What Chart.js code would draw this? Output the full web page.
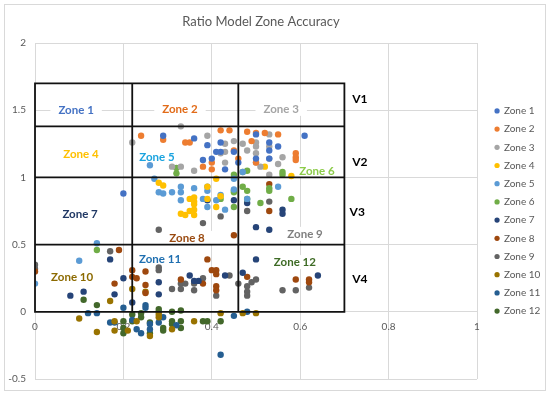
<!DOCTYPE html>
<html>
<head>
<meta charset="utf-8">
<script src="https://cdn.jsdelivr.net/npm/chart.js@4/dist/chart.umd.min.js"></script>
<style>
  html, body { margin: 0; padding: 0; background: #ffffff; }
  canvas { display: block; }
</style>
</head>
<body>
<canvas id="c" width="550" height="394"></canvas>
<script>
// ---------------- DATA ----------------
const seriesNames = ['Zone 1','Zone 2','Zone 3','Zone 4','Zone 5','Zone 6','Zone 7','Zone 8','Zone 9','Zone 10','Zone 11','Zone 12'];

const zone1 = [[0.29,1.31],[0.36,1.29],[0.39,1.24],[0.42,1.26],[0.42,1.19],[0.41,1.19],[0.38,1.13],[0.40,1.14],[0.43,1.06],[0.46,1.11],[0.50,1.32],[0.53,1.26],[0.50,1.14],[0.53,1.14],[0.55,1.23],[0.61,1.31],[0.20,0.88],[0.45,1.19],[0.53,1.20]];
const zone2 = [[0.24,1.31],[0.29,1.28],[0.34,1.26],[0.35,1.26],[0.42,1.35],[0.44,1.35],[0.48,1.34],[0.50,1.33],[0.52,1.33],[0.55,1.32],[0.45,1.20],[0.40,1.11],[0.40,1.06],[0.38,1.08],[0.59,1.18],[0.59,1.15],[0.59,1.13],[0.50,1.11],[0.49,1.27],[0.46,1.14]];
const zone3 = [[0.33,1.38],[0.22,1.26],[0.39,1.31],[0.45,1.27],[0.43,1.19],[0.42,1.18],[0.43,1.11],[0.36,1.05],[0.31,1.08],[0.33,1.08],[0.47,1.25],[0.50,1.26],[0.50,1.18],[0.50,1.11],[0.53,1.23],[0.56,1.15],[0.55,1.10],[0.53,1.32],[0.53,1.02],[0.50,1.23],[0.48,1.20],[0.51,1.08],[0.53,1.14],[0.43,1.25]];
const zone4 = [[0.28,0.96],[0.29,0.94],[0.35,0.84],[0.36,0.85],[0.36,0.82],[0.41,0.99],[0.39,0.93],[0.41,0.78],[0.33,0.73],[0.36,0.76],[0.52,1.08],[0.36,0.80],[0.35,0.75],[0.36,0.72],[0.42,0.86],[0.58,1.01],[0.39,0.84],[0.34,0.72]];
const zone5 = [[0.26,1.09],[0.27,0.99],[0.28,0.89],[0.29,0.88],[0.31,0.89],[0.33,0.93],[0.33,0.89],[0.36,0.92],[0.39,0.93],[0.39,0.90],[0.33,0.83],[0.38,0.84],[0.39,0.78],[0.41,0.83],[0.42,0.87],[0.48,0.84],[0.55,0.93],[0.47,1.04],[0.14,0.51],[0.10,0.38],[0.45,0.91],[0.43,0.76],[0.45,0.99],[0.00,0.21]];
const zone6 = [[0.32,1.07],[0.32,1.03],[0.45,1.02],[0.47,1.04],[0.48,1.05],[0.56,1.04],[0.45,0.89],[0.45,0.90],[0.42,0.84],[0.45,0.78],[0.47,0.93],[0.48,0.90],[0.53,0.90],[0.51,0.81],[0.58,0.84],[0.48,0.84],[0.56,1.02],[0.53,0.92],[0.14,0.46]];
const zone7 = [[0.39,0.83],[0.45,0.83],[0.48,0.81],[0.56,0.76],[0.56,0.73],[0.50,0.63],[0.53,0.61],[0.50,0.39],[0.64,0.27],[0.17,0.39],[0.20,0.25],[0.18,0.13],[0.11,0.15],[0.08,0.12],[0.22,0.07],[0.35,0.27],[0.37,0.23],[0.36,0.23],[0.43,0.27],[0.47,0.29],[0.28,0.22],[0.28,0.13]];
const zone8 = [[0.53,0.75],[0.53,0.95],[0.45,0.57],[0.19,0.46],[0.39,0.39],[0.40,0.31],[0.41,0.31],[0.41,0.28],[0.22,0.31],[0.22,0.26],[0.23,0.25],[0.25,0.30],[0.25,0.20],[0.38,0.21],[0.41,0.19],[0.41,0.16],[0.18,0.21],[0.48,0.26],[0.59,0.24],[0.62,0.24],[0.62,0.22],[0.33,0.24],[0.00,0.30],[0.25,0.14]];
const zone9 = [[0.28,0.61],[0.38,0.66],[0.48,0.75],[0.28,0.33],[0.28,0.31],[0.33,0.21],[0.36,0.21],[0.38,0.25],[0.44,0.27],[0.46,0.21],[0.48,0.19],[0.48,0.15],[0.48,0.12],[0.49,0.22],[0.50,0.24],[0.56,0.16],[0.59,0.16],[0.62,0.18],[0.41,0.12],[0.17,0.45],[0.34,0.21],[0.33,0.17],[0.36,0.16],[0.31,0.17],[0.00,0.35],[0.00,0.32],[0.53,0.82],[0.42,0.71]];
const zone10 = [[0.10,-0.05],[0.14,-0.15],[0.17,0.08],[0.18,-0.07],[0.18,-0.14],[0.21,-0.14],[0.23,-0.07],[0.26,-0.18],[0.28,-0.04],[0.31,-0.13],[0.36,-0.07],[0.42,-0.01],[0.47,-0.01],[0.50,-0.01],[0.22,0.17],[0.25,0.15],[0.28,-0.02]];
const zone11 = [[0.12,-0.01],[0.14,-0.01],[0.20,0.03],[0.17,-0.08],[0.18,-0.08],[0.22,-0.06],[0.23,-0.13],[0.24,-0.16],[0.25,0.05],[0.25,0.03],[0.26,-0.13],[0.26,-0.09],[0.28,-0.08],[0.32,-0.10],[0.42,-0.32],[0.45,-0.03],[0.48,0.00],[0.29,-0.04]];
const zone12 = [[0.11,0.09],[0.14,0.05],[0.20,-0.07],[0.20,-0.12],[0.20,-0.16],[0.22,-0.02],[0.22,-0.07],[0.24,-0.04],[0.26,-0.08],[0.26,-0.16],[0.28,0.02],[0.28,0.00],[0.29,-0.12],[0.29,-0.14],[0.31,0.00],[0.31,-0.07],[0.31,-0.09],[0.33,0.01],[0.33,-0.07],[0.33,-0.12],[0.38,-0.07],[0.39,-0.07],[0.42,-0.07],[0.24,-0.01]];

const seriesData = [zone1, zone2, zone3, zone4, zone5, zone6, zone7, zone8, zone9, zone10, zone11, zone12];

// axis ticks
const xTicks = [0, 0.2, 0.4, 0.6, 0.8, 1];
const yTicks = [-0.5, 0, 0.5, 1, 1.5, 2];
const xTickLabels = ['0', '0.2', '0.4', '0.6', '0.8', '1'];
const yTickLabels = ['-0.5', '0', '0.5', '1', '1.5', '2'];

// zone grid boundaries (data units)
const boundX = [0, 0.22, 0.46, 0.70];
const boundY = [0, 0.5, 1.0, 1.38, 1.7];

// annotation texts
const zoneLabelText = ['Zone 1','Zone 2','Zone 3','Zone 4','Zone 5','Zone 6','Zone 7','Zone 8','Zone 9','Zone 10','Zone 11','Zone 12'];
const zoneLabelX = [0.093, 0.328, 0.557, 0.104, 0.276, 0.638, 0.102, 0.344, 0.611, 0.084, 0.283, 0.588];
const zoneLabelY = [1.496, 1.51, 1.51, 1.173, 1.151, 1.046, 0.723, 0.55, 0.58, 0.258, 0.393, 0.37];
const vLabelText = ['V1','V2','V3','V4'];
const vLabelX = [0.735, 0.735, 0.729, 0.735];
const vLabelY = [1.579, 1.113, 0.74, 0.243];

// ---------------- STYLES ----------------
const seriesColors = ['#4472C4','#ED7D31','#A5A5A5','#FFC000','#5B9BD5','#70AD47','#264478','#9E480E','#636363','#997300','#255E91','#43682B'];
const labelColors = ['#4472C4','#E26B18','#A5A5A5','#FFC000','#1AA3DF','#8CCB4A','#203864','#9A4A10','#7F7F7F','#8C6A00','#1F6FB0','#3E6B25'];
const FONT = 'Lato, "Open Sans", "Liberation Sans", sans-serif';

const annot = {
  id: 'annot',
  afterLayout(chart) {
    if (chart.legend) { chart.legend.left += 10; chart.legend.right += 10; }
    if (chart.titleBlock) { chart.titleBlock.left -= 9; chart.titleBlock.right -= 9; }
  },
  beforeDraw(chart) {
    const ctx = chart.ctx;
    ctx.save();
    ctx.fillStyle = '#ffffff';
    ctx.fillRect(0, 0, chart.width, chart.height);
    ctx.strokeStyle = '#d9d9d9';
    ctx.lineWidth = 1;
    ctx.strokeRect(4.5, 4.5, chart.width - 9, chart.height - 8);
    ctx.restore();
  },
  beforeDatasetsDraw(chart) {
    const ctx = chart.ctx, xs = chart.scales.x, ys = chart.scales.y;
    ctx.save();
    ctx.font = 'bold 11.5px ' + FONT;
    ctx.textAlign = 'center';
    ctx.textBaseline = 'middle';
    zoneLabelText.forEach((t, i) => {
      const px = xs.getPixelForValue(zoneLabelX[i]);
      const py = ys.getPixelForValue(zoneLabelY[i]);
      const w = ctx.measureText(t).width;
      ctx.fillStyle = '#ffffff';
      ctx.fillRect(px - w / 2 - 8, py - 7, w + 16, 14);
      ctx.fillStyle = labelColors[i];
      ctx.fillText(t, px, py);
    });
    ctx.restore();
  },
  afterDatasetsDraw(chart) {
    const ctx = chart.ctx, xs = chart.scales.x, ys = chart.scales.y;
    ctx.save();
    ctx.strokeStyle = '#111111';
    ctx.lineWidth = 1.8;
    const x0 = xs.getPixelForValue(boundX[0]), x1 = xs.getPixelForValue(boundX[boundX.length - 1]);
    const y0 = ys.getPixelForValue(boundY[0]), y1 = ys.getPixelForValue(boundY[boundY.length - 1]);
    ctx.beginPath();
    boundX.forEach(v => { const p = xs.getPixelForValue(v); ctx.moveTo(p, y0); ctx.lineTo(p, y1); });
    boundY.forEach(v => { const p = ys.getPixelForValue(v); ctx.moveTo(x0 - 0.9, p); ctx.lineTo(x1 + 0.9, p); });
    ctx.stroke();
    ctx.font = 'bold 12px ' + FONT;
    ctx.fillStyle = '#000000';
    ctx.textAlign = 'center';
    ctx.textBaseline = 'middle';
    vLabelText.forEach((t, i) => {
      ctx.fillText(t, xs.getPixelForValue(vLabelX[i]), ys.getPixelForValue(vLabelY[i]));
    });
    ctx.restore();
  }
};

const datasets = seriesNames.map((name, i) => ({
  label: name,
  data: seriesData[i].map(p => ({ x: p[0], y: p[1] })),
  backgroundColor: seriesColors[i],
  borderColor: seriesColors[i],
  borderWidth: 0,
  pointRadius: 3.2,
  pointHoverRadius: 3.2
}));

new Chart(document.getElementById('c'), {
  type: 'scatter',
  data: { datasets },
  plugins: [annot],
  options: {
    responsive: false,
    animation: false,
    devicePixelRatio: 1,
    layout: { padding: { left: 5, right: 15, top: 4, bottom: 12 } },
    plugins: {
      tooltip: { enabled: false },
      title: {
        display: true,
        text: 'Ratio Model Zone Accuracy',
        color: '#595959',
        font: { family: FONT, size: 13, weight: 'normal', lineHeight: 1.2 },
        padding: { top: 10.2, bottom: 13.2 }
      },
      legend: {
        position: 'right',
        fullSize: false,
        maxWidth: 58,
        labels: {
          usePointStyle: true,
          pointStyle: 'circle',
          boxWidth: 3.7,
          boxHeight: 3.7,
          padding: 8.2,
          color: '#595959',
          font: { family: FONT, size: 10 }
        }
      }
    },
    scales: {
      x: {
        type: 'linear',
        min: xTicks[0],
        max: xTicks[xTicks.length - 1],
        position: { y: 0 },
        afterBuildTicks(scale) { scale.ticks = xTicks.map(v => ({ value: v })); },
        ticks: {
          padding: 9, color: '#595959', font: { family: FONT, size: 10 }, maxRotation: 0,
          callback: (v) => { const k = xTicks.indexOf(v); return k >= 0 ? xTickLabels[k] : String(v); }
        },
        grid: { color: '#d9d9d9', lineWidth: 1, drawTicks: false },
        border: { display: false }
      },
      y: {
        type: 'linear',
        min: yTicks[0],
        max: yTicks[yTicks.length - 1],
        afterBuildTicks(scale) { scale.ticks = yTicks.map(v => ({ value: v })); },
        afterFit(scale) { scale.width = 30; },
        ticks: {
          padding: 9, color: '#595959', font: { family: FONT, size: 10 },
          callback: (v) => { const k = yTicks.indexOf(v); return k >= 0 ? yTickLabels[k] : String(v); }
        },
        grid: { color: '#d9d9d9', lineWidth: 1, drawTicks: false },
        border: { display: false }
      }
    }
  }
});
</script>
</body>
</html>
